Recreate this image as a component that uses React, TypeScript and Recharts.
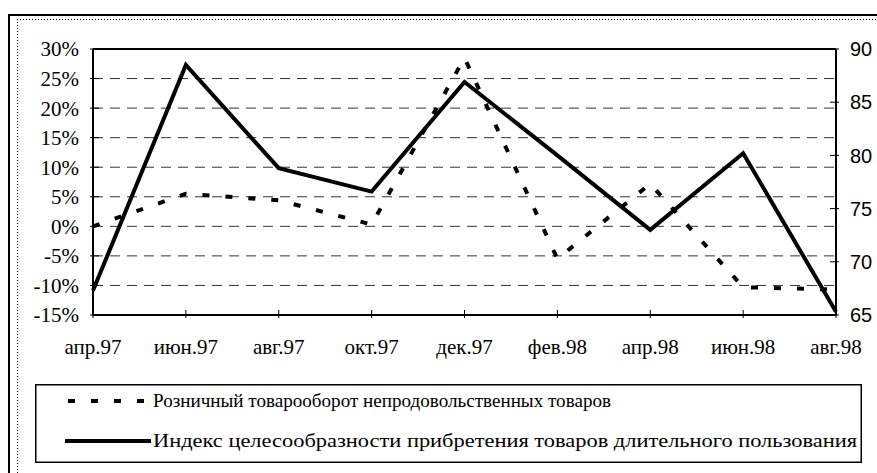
import { CartesianGrid, Legend, Line, LineChart, ReferenceLine, XAxis, YAxis } from 'recharts';

const months = ['апр.97', 'июн.97', 'авг.97', 'окт.97', 'дек.97', 'фев.98', 'апр.98', 'июн.98', 'авг.98'];
const retailTurnover = [0, 5.5, 4.4, 0.3, 28.5, -5.5, 7.2, -10.3, -10.7];
const durablesIndex = [67.3, 88.5, 78.8, 76.6, 86.9, 80, 73, 80.2, 65.3];
const pctTicks = [-15, -10, -5, 0, 5, 10, 15, 20, 25, 30];
const indexTicks = [65, 70, 75, 80, 85, 90];
const retailLabel = 'Розничный товарооборот непродовольственных товаров';
const indexLabel = 'Индекс целесообразности прибретения товаров длительного пользования';

const data = months.map((m, i) => ({ month: m, retail: retailTurnover[i], index: durablesIndex[i] }));

const serif = 'Liberation Serif';
const sans = 'Liberation Sans';

// ticks cross the axis line, like the Excel original
function PctTick({ x, y, payload }: any) {
  return (
    <g>
      <line x1={x + 11} y1={y} x2={x + 20} y2={y} stroke="#000" />
      <text x={x} y={y} dy="0.355em" textAnchor="end" fill="#000" fontFamily={serif} fontSize={21}>
        {`${payload.value}%`}
      </text>
    </g>
  );
}

function IndexTick({ x, y, payload }: any) {
  return (
    <g>
      <line x1={x - 20} y1={y} x2={x - 11} y2={y} stroke="#000" />
      <text x={x} y={y} dy="0.355em" textAnchor="start" fill="#000" fontFamily={sans} fontSize={20}>
        {payload.value}
      </text>
    </g>
  );
}

function MonthTick({ x, y, payload }: any) {
  return (
    <g>
      <line x1={x} y1={y - 29} x2={x} y2={y - 21} stroke="#000" />
      <text x={x} y={y} dy="0.71em" textAnchor="middle" fill="#000" fontFamily={serif} fontSize={21}>
        {payload.value}
      </text>
    </g>
  );
}

function LegendBox() {
  return (
    <svg width={827} height={79} style={{ display: 'block' }}>
      <rect x={0.75} y={0.75} width={825.5} height={77.5} fill="#fff" stroke="#000" strokeWidth={1.5} />
      <line x1={33} y1={17} x2={113} y2={17} stroke="#000" strokeWidth={4} strokeDasharray="7 16" />
      <line x1={30} y1={57} x2={116} y2={57} stroke="#000" strokeWidth={4} />
      <text x={118} y={23} fontFamily={serif} fontSize={19} textLength={458} lengthAdjust="spacingAndGlyphs">
        {retailLabel}
      </text>
      <text x={118} y={63} fontFamily={serif} fontSize={19} textLength={704} lengthAdjust="spacingAndGlyphs">
        {indexLabel}
      </text>
    </svg>
  );
}

export default function App() {
  return (
    <div style={{ position: 'absolute', left: 0, top: 0, width: 877, height: 473, overflow: 'hidden', background: '#fff' }}>
      <svg width={877} height={473} style={{ position: 'absolute', left: 0, top: 0 }}>
        <line x1={8} y1={15} x2={877} y2={15} stroke="#000" strokeWidth={2} />
        <line x1={9} y1={14} x2={9} y2={473} stroke="#000" strokeWidth={2} />
        <line x1={17} y1={19.5} x2={877} y2={19.5} stroke="#000" strokeWidth={1} strokeDasharray="1 2" />
        <line x1={17.5} y1={19} x2={17.5} y2={473} stroke="#000" strokeWidth={1} strokeDasharray="1 2" />
      </svg>
      <div style={{ position: 'absolute', left: 0, top: 0 }}>
        <LineChart width={877} height={473} data={data} margin={{ top: 49, right: 0, bottom: 98, left: 0 }}>
          <CartesianGrid yAxisId="left" vertical={false} stroke="#333" strokeDasharray="10 7" />
          <XAxis
            dataKey="month"
            height={60}
            axisLine={{ stroke: '#000', strokeWidth: 2 }}
            tickLine={false}
            tickSize={4}
            tickMargin={20}
            interval={0}
            tick={MonthTick}
          />
          <YAxis
            yAxisId="left"
            width={93}
            domain={[-15, 30]}
            ticks={pctTicks}
            interval={0}
            axisLine={{ stroke: '#000', strokeWidth: 2 }}
            tickLine={false}
            tickSize={3}
            tickMargin={11}
            tick={PctTick}
          />
          <YAxis
            yAxisId="right"
            orientation="right"
            width={41}
            domain={[65, 90]}
            ticks={indexTicks}
            interval={0}
            axisLine={{ stroke: '#000', strokeWidth: 2 }}
            tickLine={false}
            tickSize={3}
            tickMargin={11}
            tick={IndexTick}
          />
          <ReferenceLine yAxisId="left" y={30} stroke="#000" strokeWidth={2} />
          <Legend
            layout="horizontal"
            verticalAlign="middle"
            align="center"
            wrapperStyle={{ position: 'absolute', left: 35, top: 384, width: 827, height: 79 }}
            content={() => <LegendBox />}
          />
          <Line
            yAxisId="left"
            dataKey="retail"
            name={retailLabel}
            stroke="#000"
            strokeWidth={4}
            strokeDasharray="7 16"
            dot={false}
            isAnimationActive={false}
          />
          <Line
            yAxisId="right"
            dataKey="index"
            name={indexLabel}
            stroke="#000"
            strokeWidth={4}
            dot={false}
            isAnimationActive={false}
          />
        </LineChart>
      </div>
    </div>
  );
}
